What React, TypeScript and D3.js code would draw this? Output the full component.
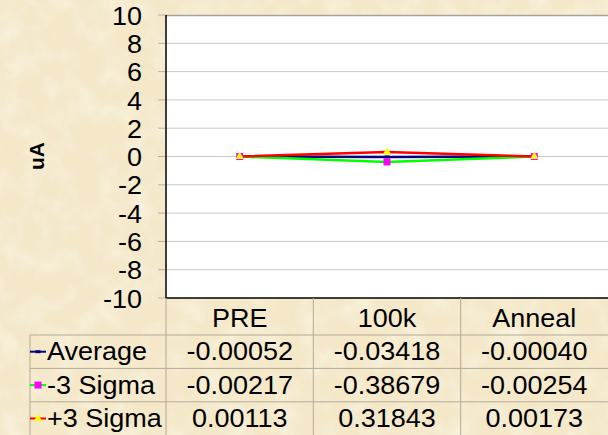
import React from "react";
import * as d3 from "d3";

const categories = ["PRE", "100k", "Anneal"];
const seriesNames = ["Average", "-3 Sigma", "+3 Sigma"];
const average = [-0.00052, -0.03418, -0.0004];
const minus3 = [-0.00217, -0.38679, -0.00254];
const plus3 = [0.00113, 0.31843, 0.00173];
const labelsAverage = ["-0.00052", "-0.03418", "-0.00040"];
const labelsMinus3 = ["-0.00217", "-0.38679", "-0.00254"];
const labelsPlus3 = ["0.00113", "0.31843", "0.00173"];
const yTicks = [10, 8, 6, 4, 2, 0, -2, -4, -6, -8, -10];

const W = 608;
const H = 435;
const plotL = 166;
const plotR = 608;
const plotT = 15;
const plotB = 298;
const rowTop = 335;
const rowH = 33.4;
const font = "'Liberation Sans', Arial, sans-serif";
const SX = 1.08;

function T(props: { x: number; y: number; anchor?: string; size?: number; children: React.ReactNode }) {
  const { x, y, anchor = "start", size = 25, children } = props;
  return (
    <text
      transform={`translate(${x},${y}) scale(${SX},1)`}
      textAnchor={anchor}
      dominantBaseline="central"
      fontSize={size}
      fill="#000"
    >
      {children}
    </text>
  );
}

export default function App() {
  const y = d3.scaleLinear().domain([-10, 10]).range([plotB, plotT]);
  const x = d3.scaleBand().domain(categories).range([plotL, plotR]).padding(0);
  const cx = (c: string) => (x(c) as number) + x.bandwidth() / 2;
  const line = d3
    .line<number>()
    .x((_, i) => cx(categories[i]))
    .y((d) => y(d));

  const series = [
    { name: seriesNames[0], values: average, labels: labelsAverage, color: "#000080", marker: "dash" },
    { name: seriesNames[1], values: minus3, labels: labelsMinus3, color: "#00FF00", marker: "square" },
    { name: seriesNames[2], values: plus3, labels: labelsPlus3, color: "#FF0000", marker: "triangle" },
  ];

  const marker = (kind: string, mx: number, my: number, key: string) => {
    if (kind === "dash")
      return <rect key={key} x={mx - 2.5} y={my - 1.5} width={5} height={3} fill="#000080" />;
    if (kind === "square")
      return <rect key={key} x={mx - 3.5} y={my - 3.5} width={7} height={7} fill="#FF00FF" />;
    const tri = d3.symbol(d3.symbolTriangle, 30)();
    return <path key={key} d={tri as string} transform={`translate(${mx},${my})`} fill="#FFFF00" />;
  };

  return (
    <svg
      width={W}
      height={H}
      style={{ position: "absolute", left: 0, top: 0, display: "block" }}
      fontFamily={font}
    >
      <defs>
        <filter id="parch" x="0" y="0" width="100%" height="100%">
          <feTurbulence type="fractalNoise" baseFrequency="0.04" numOctaves="4" seed="3" result="n" />
          <feColorMatrix
            in="n"
            type="matrix"
            values="0 0 0 0 1  0 0 0 0 0.99  0 0 0 0 0.95  0 0 0 1.4 -0.6"
          />
        </filter>
      </defs>
      <rect x={0} y={0} width={W} height={H} fill="#F4E8C9" />
      <rect x={0} y={0} width={W} height={H} filter="url(#parch)" opacity={0.6} />

      {/* plot area */}
      <rect x={plotL} y={plotT} width={plotR - plotL} height={plotB - plotT} fill="#FFFFFF" />
      {yTicks.map((t) => (
        <g key={t}>
          {t !== 10 && t !== -10 && (
            <line x1={plotL} x2={plotR} y1={y(t)} y2={y(t)} stroke="#C8C8C8" strokeWidth={1} />
          )}
          <line x1={plotL - 8} x2={plotL} y1={y(t)} y2={y(t)} stroke="#B8B0A0" strokeWidth={1} />
          <T x={142} y={y(t) + 1} anchor="end">
            {t}
          </T>
        </g>
      ))}
      <line x1={plotL} x2={plotR} y1={plotT + 0.5} y2={plotT + 0.5} stroke="#A8A29A" strokeWidth={1.5} />
      <line x1={plotL} x2={plotL} y1={plotT} y2={plotB} stroke="#000" strokeWidth={1.5} />
      <line x1={plotL} x2={plotR} y1={plotB} y2={plotB} stroke="#000" strokeWidth={1.5} />

      <text
        transform={`translate(36,156) rotate(-90)`}
        textAnchor="middle"
        dominantBaseline="central"
        fontSize={21}
        fontWeight="bold"
      >
        uA
      </text>

      {/* series lines */}
      {series.map((s) => (
        <path key={s.name} d={line(s.values) as string} fill="none" stroke={s.color} strokeWidth={2.5} />
      ))}
      {series.map((s) =>
        s.values.map((v, i) => marker(s.marker, cx(categories[i]), y(v), `${s.name}-${i}`))
      )}

      {/* data table */}
      <g stroke="#B4AA96" strokeWidth={1}>
        <line x1={30} x2={W} y1={rowTop} y2={rowTop} />
        <line x1={30} x2={W} y1={rowTop + rowH} y2={rowTop + rowH} />
        <line x1={30} x2={W} y1={rowTop + 2 * rowH} y2={rowTop + 2 * rowH} />
        <line x1={30} x2={30} y1={rowTop} y2={H} />
        {categories.map((c, i) =>
          i > 0 ? <line key={c} x1={x(c) as number} x2={x(c) as number} y1={plotB} y2={H} /> : null
        )}
        <line x1={plotL} x2={plotL} y1={plotB} y2={H} />
      </g>
      {categories.map((c) => (
        <T key={c} x={cx(c)} y={(plotB + rowTop) / 2 + 2} anchor="middle">
          {c}
        </T>
      ))}
      {series.map((s, r) => {
        const ry = rowTop + rowH * (r + 0.5);
        return (
          <g key={s.name}>
            <line x1={30} x2={46} y1={ry} y2={ry} stroke={s.color} strokeWidth={2} />
            {marker(s.marker, 38, ry, `leg-${r}`)}
            <T x={47} y={ry}>
              {s.name}
            </T>
            {s.labels.map((l, i) => (
              <T key={i} x={cx(categories[i])} y={ry} anchor="middle">
                {l}
              </T>
            ))}
          </g>
        );
      })}
    </svg>
  );
}
